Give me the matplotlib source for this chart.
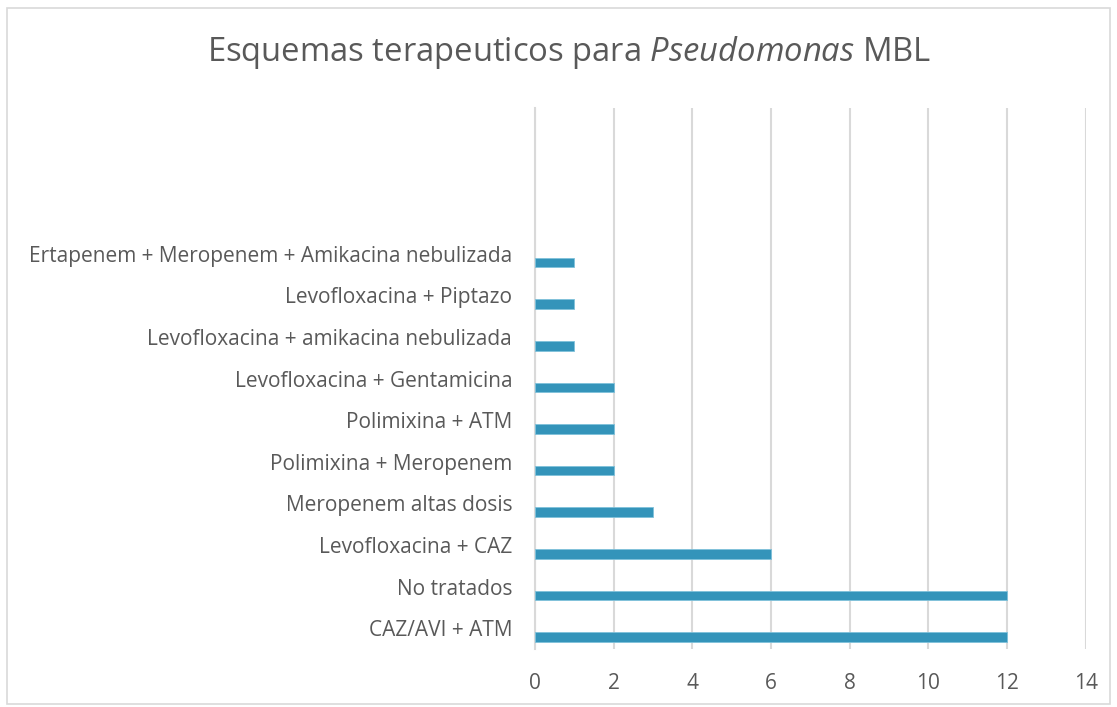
import matplotlib
matplotlib.use("Agg")
import matplotlib.pyplot as plt
from matplotlib.patches import Rectangle

categories = [
    "CAZ/AVI + ATM",
    "No tratados",
    "Levofloxacina + CAZ",
    "Meropenem altas dosis",
    "Polimixina + Meropenem",
    "Polimixina + ATM",
    "Levofloxacina + Gentamicina",
    "Levofloxacina + amikacina nebulizada",
    "Levofloxacina + Piptazo",
    "Ertapenem + Meropenem + Amikacina nebulizada",
    "", "", "",
]
values = [12, 12, 6, 3, 2, 2, 2, 1, 1, 1, None, None, None]
xticks = [0, 2, 4, 6, 8, 10, 12, 14]

plt.rcParams['font.family'] = ['Open Sans', 'DejaVu Sans']
plt.rcParams['mathtext.fontset'] = 'custom'
plt.rcParams['mathtext.it'] = 'Open Sans:italic'
plt.rcParams['mathtext.rm'] = 'Open Sans'
text_color = '#595959'
bar_color = '#3494BA'
grid_color = '#D9D9D9'

fig = plt.figure(figsize=(11.17, 7.07), dpi=100)
fig.patches.append(Rectangle((0.006, 0.004), 0.988, 0.985, transform=fig.transFigure,
                             fill=False, edgecolor='#D9D9D9', linewidth=1.2))
ax = fig.add_axes([0.479, 0.082, 0.493, 0.765])

ypos = list(range(len(categories)))
bx = [y - 0.21 for y, v in zip(ypos, values) if v is not None]
bv = [v for v in values if v is not None]
ax.barh(bx, bv, height=0.23, color=bar_color, edgecolor='#7FC1DA', linewidth=0.6, zorder=3)

ax.set_xlim(0, 14)
ax.set_ylim(-0.5, len(categories) - 0.5)
ax.set_xticks(xticks)
ax.set_xticklabels([str(t) for t in xticks])
ax.set_yticks(ypos)
ax.set_yticklabels(categories)
ax.grid(axis='x', color=grid_color, linewidth=1.5, zorder=0)
for s in ['top', 'right', 'bottom']:
    ax.spines[s].set_visible(False)
ax.spines['left'].set_color(grid_color)
ax.spines['left'].set_linewidth(1.5)
ax.tick_params(axis='both', length=0, labelcolor=text_color, labelsize=15)
ax.tick_params(axis='y', pad=16.5)
ax.tick_params(axis='x', pad=17)

fig.text(0.509, 0.926, "Esquemas terapeuticos para $\\mathit{Pseudomonas}$ MBL", ha='center', va='center',
         fontsize=23.6, color=text_color)

fig.savefig("out.png", dpi=100)
